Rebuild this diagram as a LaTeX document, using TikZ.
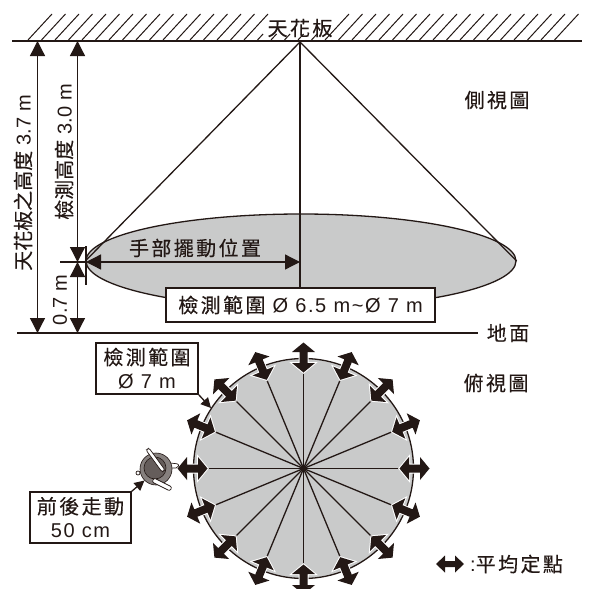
\documentclass[tikz,border=0pt]{standalone}
\usepackage{fontspec}
\setmainfont[LetterSpace=8]{Liberation Sans}
\newfontfamily\plain{Liberation Sans}
\newfontfamily\cjk[LetterSpace=12,FakeBold=0.3]{Noto Sans CJK TC}
\newfontfamily\cjktight[FakeBold=0.3]{Noto Sans CJK TC}
\usetikzlibrary{arrows.meta,calc,shapes.geometric}
\definecolor{ink}{HTML}{231815}
\definecolor{shade}{HTML}{C9CACA}

\begin{document}
\begin{tikzpicture}[x=1pt,y=-1pt]

\def\topcx{303.5}
\def\topcy{468.5}
\def\topr{110}

\tikzstyle{tag}=[text=ink,font=\fontsize{20}{24}\selectfont,inner sep=0pt]
\tikzstyle{sidetag}=[tag,rotate=90,font=\fontsize{20}{24}\selectfont\plain]
\tikzstyle{boxed}=[tag,draw=ink,fill=white,line width=1.5pt,align=center]
\tikzstyle{line}=[draw=ink,line width=1.3pt]
\tikzstyle{hatch}=[draw=ink,line width=1pt]
\tikzstyle{dim}=[line,{Triangle[length=15pt,width=15pt]}-{Triangle[length=15pt,width=15pt]}]
\tikzstyle{oneway}=[line,-{Triangle[length=10pt,width=10pt]}]
\tikzstyle{spot}=[fill=ink,preaction={draw=white,line width=2pt,line join=miter}]
\tikzstyle{arm}=[draw=ink,fill=white,line width=0.7pt]

\useasboundingbox (0,0) rectangle (589,589);

%ceiling
\foreach \n in {0,1,...,39} {
  \pgfmathsetmacro{\hy}{(\n>16 && \n<22) ? 34 : 14}
  \pgfmathsetmacro{\hb}{28+13.5*\n}
  \pgfmathsetmacro{\ht}{\hb+(40-\hy)*24/26}
  \draw[hatch] (\hb,40) -- (\ht,\hy);
}
\coordinate (ceilL) at (12,41);
\coordinate (ceilR) at (582,41);
\draw[line] (ceilL) -- (ceilR);
\node[tag] (ceiling) at (300,28) {\cjk 天花板};

%side view
\coordinate (apex) at (300,42);
\node[ellipse,draw=ink,fill=shade,line width=1.3pt,minimum width=430pt,minimum height=94pt,inner sep=0pt] (zone) at (301,261) {};
\coordinate (axis) at (300,290);
\coordinate (mid) at (300,262);
\coordinate (hand) at (86,262);
\draw[line] (zone.west) -- (apex) -- (zone.east);
\draw[line] (apex) -- (axis);
\draw[dim] (hand) -- (mid);
\node[tag] (handlabel) at (195,248) {\cjk 手部擺動位置};
\node[boxed,minimum width=269pt,minimum height=34pt] (rangeside) at (300.5,305) {{\cjk 檢測範圍} Ø 6.5 m\textasciitilde Ø 7 m};
\node[tag] (sidelabel) at (497,100) {\cjk 側視圖};

%ground
\coordinate (groundL) at (17,333);
\coordinate (groundR) at (478,333);
\draw[line] (groundL) -- (groundR);
\node[tag] (groundlabel) at (508,333) {\cjk 地面};

%heights
\coordinate (c1) at (37.5,41);
\coordinate (g1) at (37.5,333);
\coordinate (c2) at (77.5,41);
\coordinate (h2) at (77.5,262);
\coordinate (g2) at (77.5,333);
\coordinate (tickA) at (60,262);
\coordinate (tickB) at (86,246);
\coordinate (tickC) at (86,285);
\draw[dim] (c1) -- (g1);
\draw[dim] (c2) -- (h2);
\draw[dim] (h2) -- (g2);
\draw[line] (tickA) -- (hand);
\draw[line] (tickB) -- (tickC);
\node[sidetag] (totalh) at (23,183) {{\cjktight 天花板之高度} 3.7 m};
\node[sidetag] (detecth) at (64,152) {{\cjktight 檢測高度} 3.0 m};
\node[sidetag] (floorh) at (60,300) {0.7 m};

%top view
\coordinate (hub) at (\topcx,\topcy);
\draw[line,fill=shade] (hub) circle (\topr);
\foreach \a [count=\i] in {0,22.5,...,337.5} {
  \coordinate (s\i) at ($(hub)+(\a:97)$);
  \draw[line] (hub) -- (s\i);
}
\foreach \a in {0,22.5,...,337.5}
  \path[spot,shift={(hub)},rotate=\a,xshift=111pt]
    (-15,0) -- (-5.5,-11.5) -- (-5.5,-4) -- (5.5,-4) -- (5.5,-11.5) -- (15,0)
    -- (5.5,11.5) -- (5.5,4) -- (-5.5,4) -- (-5.5,11.5) -- cycle;
\node[tag] (toplabel) at (496,383) {\cjk 俯視圖};

%callouts
\node[boxed,minimum width=102pt,minimum height=51pt] (rangetop) at (147,368.5) {{\cjk 檢測範圍}\\Ø 7 m};
\coordinate (rimpoint) at (211,408);
\draw[oneway] (rangetop.south east) -- (rimpoint);

%walker
\draw[arm,rounded corners=2pt] (170,463) -- (179,464) -- (178,468) -- (170,468);
\node[circle,draw=ink,fill=ink!55,line width=0.6pt,minimum size=32pt,inner sep=0pt] (walker) at (156,469) {};
\draw[arm] (138,473) circle (2);
\node[circle,draw=ink,fill=ink!70,line width=0.6pt,minimum size=22pt,inner sep=0pt] (head) at (155,468) {};
\draw[arm,rounded corners=2pt] (146,450) -- (149,448) -- (165,470) -- (162,472) -- cycle;
\draw[arm,rounded corners=2pt] (152,482) -- (154,478) -- (172,487) -- (170,491) -- cycle;
\node[boxed,minimum width=101pt,minimum height=51pt] (walkbox) at (80.5,517.5) {{\cjk 前後走動}\\50 cm};
\draw[oneway] (walkbox.north east) -- (walker.south west);

%legend
\path[fill=ink,shift={(450,564)}]
  (-14,0) -- (-5,-8.5) -- (-5,-3) -- (5,-3) -- (5,-8.5) -- (14,0)
  -- (5,8.5) -- (5,3) -- (-5,3) -- (-5,8.5) -- cycle;
\node[tag,anchor=west] (legend) at (470,564) {:{\cjk 平均定點}};

\end{tikzpicture}
\end{document}
